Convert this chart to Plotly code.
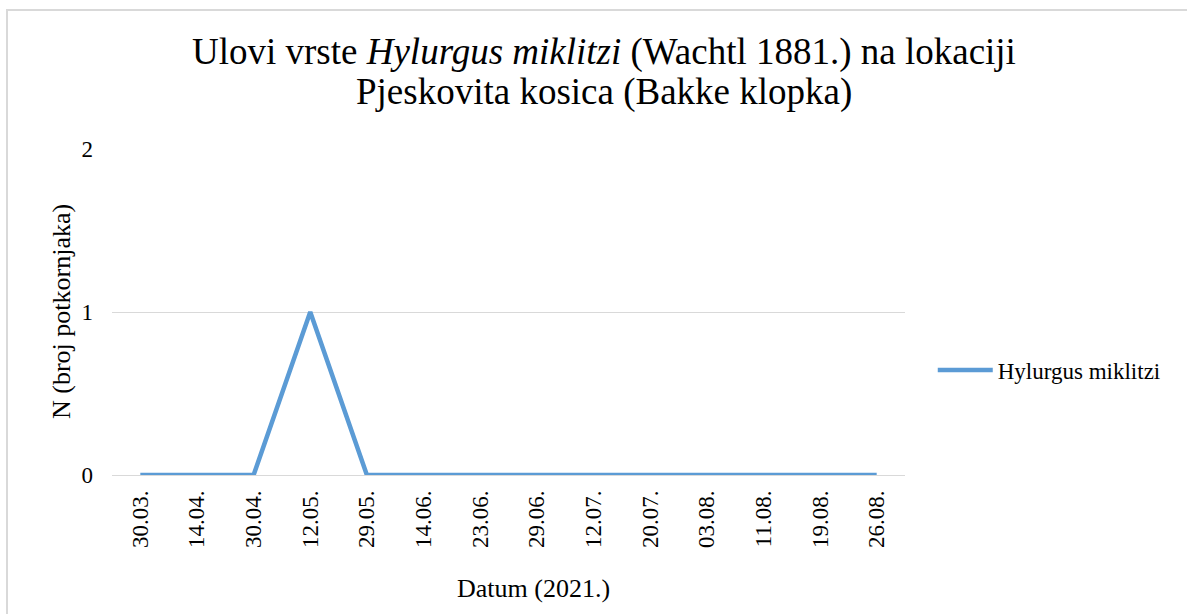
import plotly.graph_objects as go

datumi = ['30.03.', '14.04.', '30.04.', '12.05.', '29.05.', '14.06.', '23.06.',
          '29.06.', '12.07.', '20.07.', '03.08.', '11.08.', '19.08.', '26.08.']
ulov = [0, 0, 0, 1, 0, 0, 0, 0, 0, 0, 0, 0, 0, 0]

naslov1 = 'Ulovi vrste <i>Hylurgus miklitzi</i> (Wachtl 1881.) na lokaciji'
naslov2 = 'Pjeskovita kosica (Bakke klopka)'

font = 'Times New Roman, Liberation Serif, serif'
plava = '#5B9BD5'
siva = '#D9D9D9'

fig = go.Figure()
fig.add_trace(go.Scatter(x=datumi, y=ulov, mode='lines', name='Hylurgus miklitzi',
                         line=dict(color=plava, width=4.5)))

fig.update_layout(
    width=1187, height=614,
    margin=dict(l=112, r=282, t=149, b=139),
    paper_bgcolor='white', plot_bgcolor='white',
    font=dict(family=font, color='black', size=23),
    showlegend=True,
    legend=dict(x=1.035, y=0.322, xanchor='left', yanchor='middle',
                font=dict(size=23, family=font), itemwidth=55, bgcolor='rgba(0,0,0,0)'),
    xaxis=dict(type='category', tickangle=-90, showgrid=False, showline=False,
               ticks='', zeroline=False, range=[-0.5, 13.5],
               tickfont=dict(size=23, family=font), ticklabelstandoff=10),
    yaxis=dict(range=[0, 2], tickvals=[0, 1, 2], showgrid=True, gridcolor=siva,
               gridwidth=1, zeroline=True, zerolinecolor=siva, zerolinewidth=1,
               showline=False, ticks='', tickfont=dict(size=23, family=font),
               ticklabelstandoff=18),
)

# naslov u dva reda (manji razmak medu redovima nego u plotly naslovu)
fig.add_annotation(text=naslov1, xref='paper', yref='paper',
                   x=(604 - 112) / 793, y=(475 - 52) / 326, showarrow=False,
                   font=dict(size=37, family=font), xanchor='center', yanchor='middle')
fig.add_annotation(text=naslov2, xref='paper', yref='paper',
                   x=(604 - 112) / 793, y=(475 - 92) / 326, showarrow=False,
                   font=dict(size=37, family=font), xanchor='center', yanchor='middle')

# naslovi osi
fig.add_annotation(text='Datum (2021.)', xref='paper', yref='paper',
                   x=(533 - 112) / 793, y=(475 - 588) / 326, showarrow=False,
                   font=dict(size=26, family=font), xanchor='center', yanchor='middle')
fig.add_annotation(text='N (broj potkornjaka)', xref='paper', yref='paper',
                   x=(61 - 112) / 793, y=0.5, showarrow=False, textangle=-90,
                   font=dict(size=26, family=font), xanchor='center', yanchor='middle')

# okvir grafikona
fig.add_shape(type='rect', xref='paper', yref='paper',
              x0=(7 - 112) / 793, x1=(1195 - 112) / 793,
              y0=(475 - 630) / 326, y1=(475 - 10) / 326,
              line=dict(color=siva, width=2), layer='below')

fig.write_html('out.html', config={'displayModeBar': False},
               post_script="document.body.style.margin='0';")
